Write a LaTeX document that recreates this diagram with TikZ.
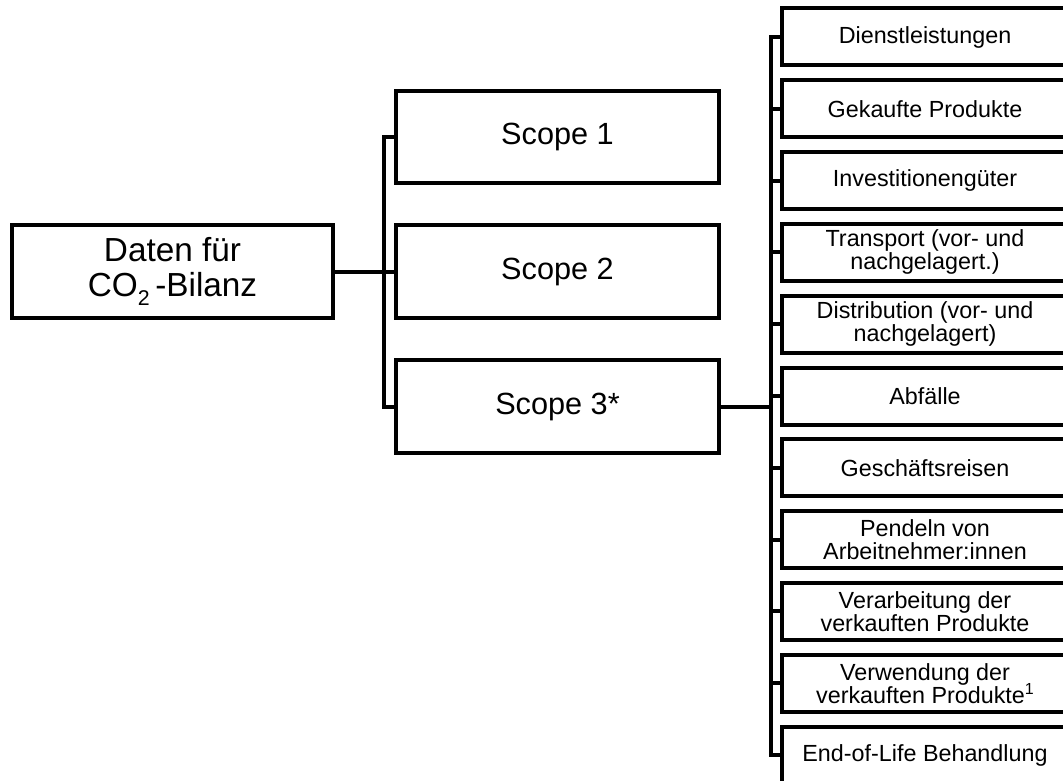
\documentclass[tikz,border=0pt]{standalone}
\usepackage{fontspec}
\setmainfont{Liberation Sans}
\newcommand{\lowtwo}{\raisebox{-0.28em}{\fontsize{16}{16}\selectfont 2}}
\newcommand{\supone}{\smash{\raisebox{0.36em}{\fontsize{12}{12}\selectfont 1}}}
\begin{document}
\begin{tikzpicture}[x=0.75pt,y=-0.75pt,
  every node/.style={inner sep=0pt, align=center, text=black},
  box/.style={draw=black, line width=3pt, fill=white, rectangle},
  rootbox/.style={box, minimum width=240.75pt, minimum height=69.75pt,
    font=\fontsize{25}{26}\selectfont},
  scopebox/.style={box, minimum width=242pt, minimum height=69.4pt,
    font=\fontsize{23}{25}\selectfont},
  catbox/.style={box, minimum width=240pt, minimum height=42.75pt},
  cattext/.style={xshift=-12.75pt, font=\fontsize{17.5}{17.25}\selectfont},
  link/.style={draw=black, line width=3pt}]
\useasboundingbox (0,0) rectangle (1063,781);
\clip (0,0) rectangle (1063,781);

% root and the three scopes
\node[rootbox] (root) at (172.5,271.5) {Daten für\\CO\lowtwo\,-Bilanz};
\node[scopebox] (s1) at (557.5,137) {Scope 1};
\node[scopebox] (s2) at (557.5,271.5) {Scope 2};
\node[scopebox] (s3) at (557.5,406.5) {Scope 3*};

% scope 3 categories (boxes run off the right margin)
\foreach \i/\txt in {0/Dienstleistungen, 1/Gekaufte Produkte, 2/Investitionengüter,
  3/{Transport (vor- und\\nachgelagert.)}, 4/{Distribution (vor- und\\nachgelagert)},
  5/Abfälle, 6/Geschäftsreisen, 7/{Pendeln von\\Arbeitnehmer:innen},
  8/{Verarbeitung der\\verkauften Produkte}, 9/{Verwendung der\\verkauften Produkte\supone},
  10/End-of-Life Behandlung}
  \node[catbox, label={[cattext]center:{\txt}}] (c\i) at (942,37+71.8*\i) {};

% first-level tree
\draw[link] (root.east) -- (s2.west);
\draw[link] (s1.west) -- ++(-10,0) |- (s3.west);

% second-level tree
\coordinate (trunk) at (771,0);
\draw[link] (s3.east) -- (s3.east -| trunk);
\draw[link] (c0.west) -- (c0.west -| trunk) |- (c10.west);
\foreach \i in {1,...,9}
  \draw[link] (c\i.west) -- (c\i.west -| trunk);
\end{tikzpicture}
\end{document}
